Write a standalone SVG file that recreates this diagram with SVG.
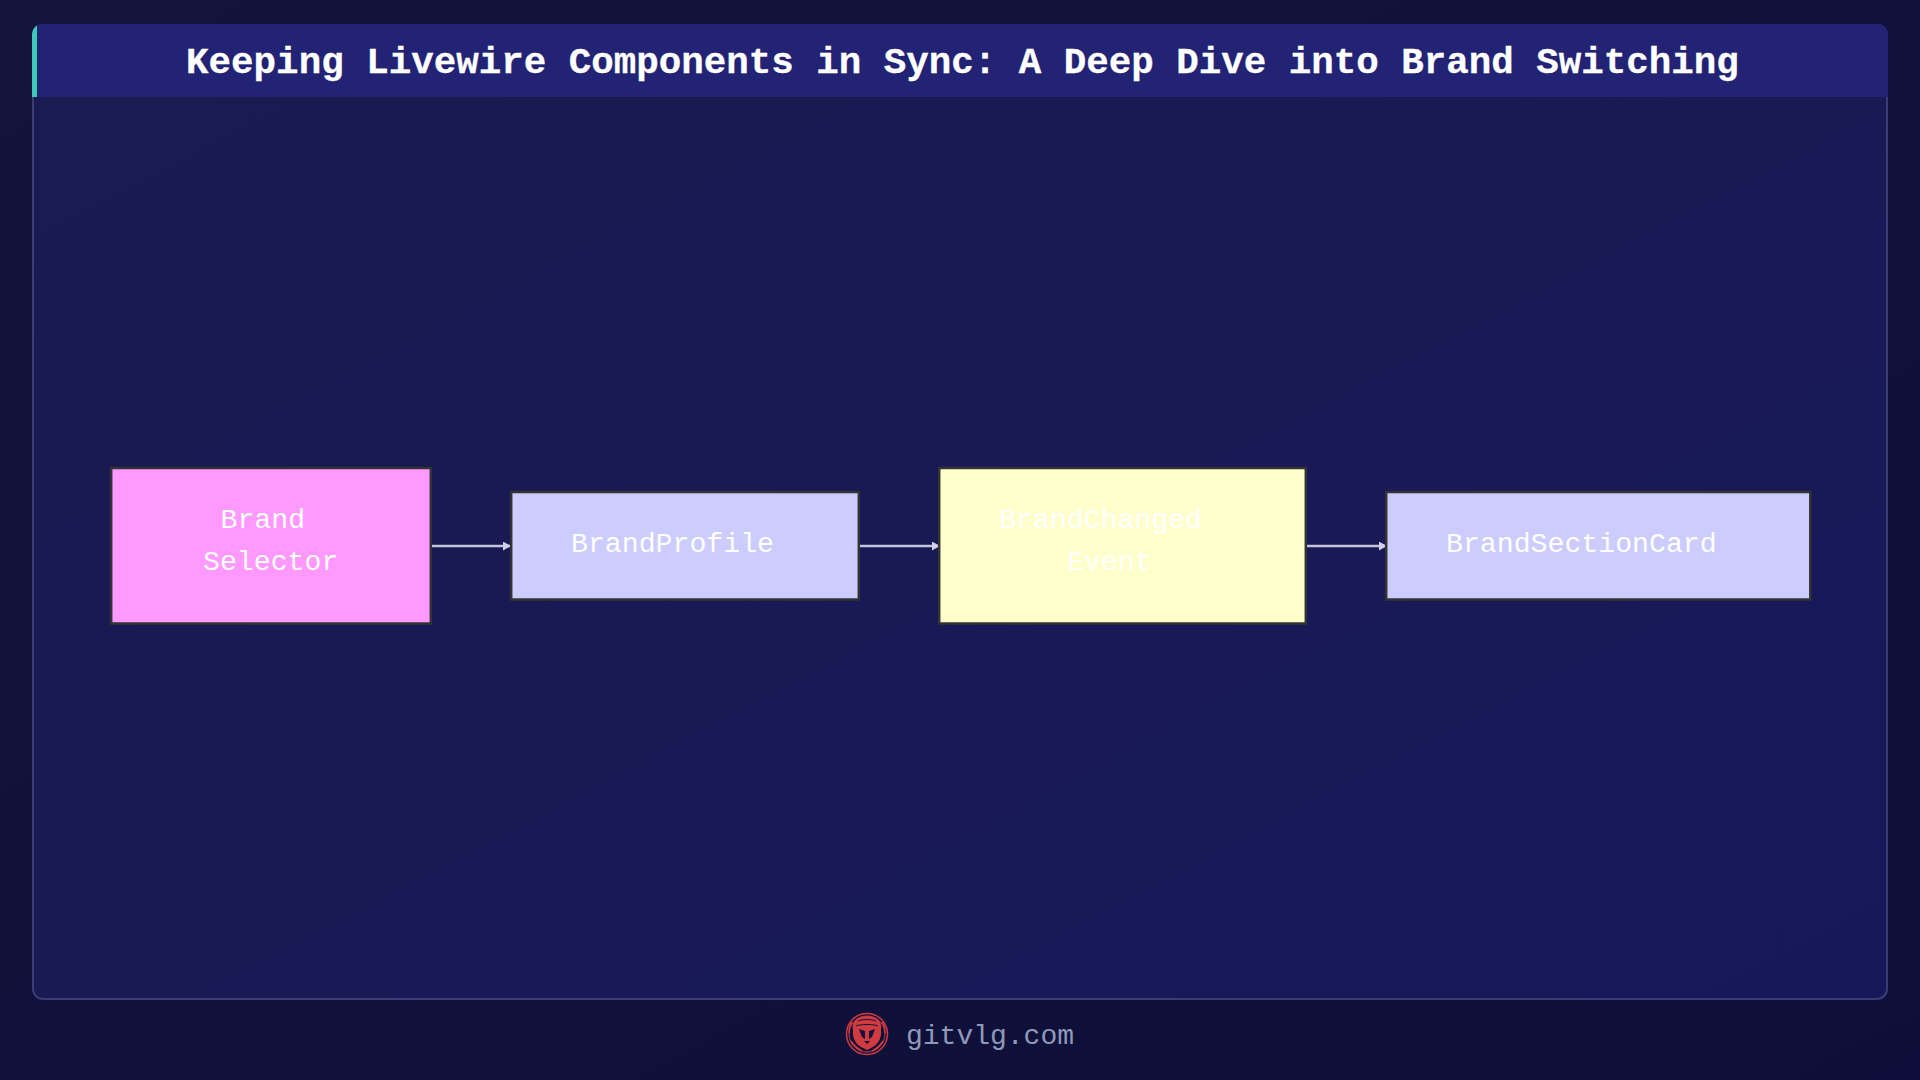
<svg xmlns="http://www.w3.org/2000/svg" width="1920" height="1080" viewBox="0 0 1920 1080">
<style>
.mono{font-family:"Liberation Mono","DejaVu Sans Mono",monospace}
.title{font-size:37.5px;font-weight:700;fill:#fff;stroke:#fff;stroke-width:.3}
.lbl{font-size:28.2px;fill:#fff}
.node{stroke:#333;stroke-width:2.5}
.edge{stroke:#c4c4da;stroke-width:2.5;fill:none;marker-end:url(#ah)}
</style>
<defs>
<linearGradient id="bg" x1="0" y1="0" x2="1" y2="1"><stop offset="0" stop-color="#12143a"/><stop offset="1" stop-color="#0d0f3a"/></linearGradient>
<linearGradient id="card" x1="0" y1="0" x2="1" y2="1"><stop offset="0" stop-color="#1a1b50"/><stop offset="1" stop-color="#17185a"/></linearGradient>
<marker id="ah" markerWidth="8" markerHeight="9" refX="7" refY="4.500" orient="auto" markerUnits="userSpaceOnUse"><path d="M0 0L8 4.500L0 9z" fill="#d0d0e8"/></marker>
<clipPath id="hc"><path d="M32 97V34a10 10 0 0 1 10-10H1878a10 10 0 0 1 10 10V97z"/></clipPath>
</defs>
<rect width="1920" height="1080" fill="url(#bg)"/>
<g id="card-panel">
<rect x="33" y="25" width="1854" height="974" rx="10" fill="url(#card)" stroke="#3c3c74" stroke-width="2"/>
<g clip-path="url(#hc)"><rect x="32" y="24" width="1856" height="73" fill="#232375"/><rect x="32" y="24" width="5" height="73" fill="#3fc9bd"/></g>
<text id="title" class="mono title" x="962.500" y="73" text-anchor="middle">Keeping Livewire Components in Sync: A Deep Dive into Brand Switching</text>
</g>
<g id="connectors">
<path class="edge" d="M432 546H510"/>
<path class="edge" d="M860 546H939"/>
<path class="edge" d="M1307 546H1386"/>
</g>
<g id="node-brand-selector">
<rect class="node" x="111.2" y="468" width="319.6" height="155.500" fill="#f9f"/>
<text class="mono lbl" x="220.500" y="528">Brand</text>
<text class="mono lbl" x="203" y="570">Selector</text>
</g>
<g id="node-brand-profile">
<rect class="node" x="511.200" y="492" width="347.600" height="107.500" fill="#ccf"/>
<text class="mono lbl" x="571" y="552">BrandProfile</text>
</g>
<g id="node-brand-changed">
<rect class="node" x="939.200" y="468" width="366.600" height="155.500" fill="#ffc"/>
<text class="mono lbl" x="999" y="528">BrandChanged</text>
<text class="mono lbl" x="1067" y="570">Event</text>
</g>
<g id="node-brand-section-card">
<rect class="node" x="1386.200" y="492" width="424.100" height="107.500" fill="#ccf"/>
<text class="mono lbl" x="1446" y="552">BrandSectionCard</text>
</g>
<g id="footer">
<g id="logo" fill="none" stroke="#cf3b3f">
<circle cx="867" cy="1034" r="20.500" stroke-width="1.500"/>
<circle cx="867" cy="1034" r="18" stroke-width="1"/>
<path d="M853 1030C851 1020 860 1016 867 1016C874 1016 883 1020 881 1030C882 1038 878 1044 873 1047L867 1050L861 1047C856 1044 852 1038 853 1030z" fill="#cf3b3f" stroke="none"/>
<path d="M851 1041C854 1046 858 1049 862 1051M883 1041C880 1046 876 1049 872 1051M849 1033C849 1028 850 1025 852 1022M885 1033C885 1028 884 1025 882 1022" stroke-width="1.500"/>
<path d="M859 1029L865 1031L865 1039L862 1037zM875 1029L869 1031L869 1039L872 1037zM864 1041H870L867 1044z" fill="#12123f" stroke="none"/>
<path d="M858 1021C862 1019 872 1019 876 1021M856 1026C860 1024 874 1024 878 1026" stroke="#12123f" stroke-width="1"/>
</g>
<text class="mono" x="906" y="1044" font-size="28" fill="#9098b8">gitvlg.com</text>
</g>
</svg>
